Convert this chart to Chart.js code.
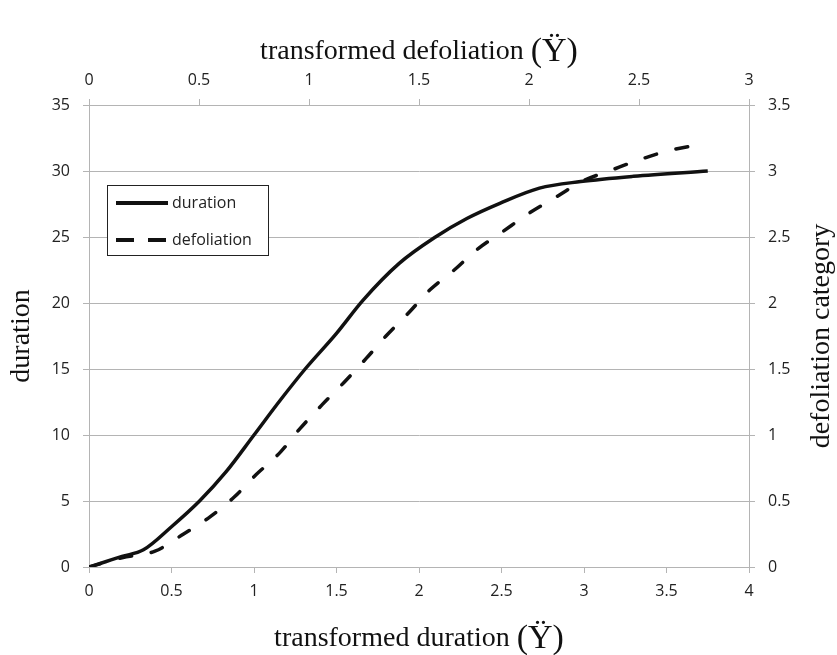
<!DOCTYPE html>
<html>
<head>
<meta charset="utf-8">
<script src="https://cdn.jsdelivr.net/npm/chart.js@4.4.1/dist/chart.umd.min.js"></script>
<style>
  body { margin: 0; background: #fff; }
  canvas { display: block; }
</style>
</head>
<body>
<canvas id="chart" width="837" height="655"></canvas>
<script>
// duration curve (bottom axis x, left axis y)
const durationX = [0, 0.1, 0.2, 0.33, 0.5, 0.67, 0.83, 1.0, 1.16, 1.31, 1.5, 1.66, 1.88, 2.1, 2.29, 2.49, 2.73, 2.98, 3.3, 3.75];
const durationY = [0, 0.4, 0.8, 1.3, 3.05, 5.0, 7.2, 10.0, 12.65, 15.0, 17.7, 20.2, 23.0, 25.0, 26.4, 27.55, 28.7, 29.2, 29.6, 30.0];

// defoliation curve (top axis x, right axis y)
const defoliationX = [0, 0.15, 0.3, 0.43, 0.55, 0.66, 0.76, 0.87, 0.96, 1.06, 1.16, 1.26, 1.35, 1.45, 1.55, 1.66, 1.76, 1.88, 2.0, 2.12, 2.24, 2.38, 2.51, 2.65, 2.78];
const defoliationY = [0, 0.07, 0.12, 0.25, 0.38, 0.53, 0.70, 0.87, 1.05, 1.23, 1.40, 1.58, 1.75, 1.92, 2.10, 2.25, 2.40, 2.54, 2.68, 2.80, 2.92, 3.01, 3.09, 3.16, 3.20];

const seriesNames = ['duration', 'defoliation'];
const bottomTitle = 'transformed duration ';
const topTitle = 'transformed defoliation ';
const symbolText = '(Ÿ)';
const leftTitle = 'duration';
const rightTitle = 'defoliation category';

const gridGray = '#b4b4b4';
const tickFont = { family: 'Open Sans', size: 16 };
const serif = '"Liberation Serif", "DejaVu Serif", serif';

// draws axis titles and the boxed legend inside the plot
const extras = {
    id: 'extras',
    afterDraw(chart) {
        const ctx = chart.ctx;
        const area = chart.chartArea;
        const cx = (area.left + area.right) / 2;
        const cy = (area.top + area.bottom) / 2;
        ctx.save();
        ctx.fillStyle = '#111';

        function mixedTitle(text, y) {
            ctx.textBaseline = 'alphabetic';
            ctx.textAlign = 'left';
            ctx.font = '28px ' + serif;
            const w1 = ctx.measureText(text).width;
            ctx.font = '34px ' + serif;
            const w2 = ctx.measureText(symbolText).width;
            let x = cx - (w1 + w2) / 2;
            ctx.font = '28px ' + serif;
            ctx.fillText(text, x, y);
            ctx.font = '34px ' + serif;
            ctx.fillText(symbolText, x + w1, y + 2);
        }
        mixedTitle(topTitle, 59);
        mixedTitle(bottomTitle, 646);

        ctx.font = '28px ' + serif;
        ctx.textAlign = 'center';
        ctx.textBaseline = 'middle';
        [[22, leftTitle], [822, rightTitle]].forEach(([x, t]) => {
            ctx.save();
            ctx.translate(x, cy);
            ctx.rotate(-Math.PI / 2);
            ctx.fillText(t, 0, 0);
            ctx.restore();
        });

        // legend box
        ctx.fillStyle = '#fff';
        ctx.fillRect(107, 185, 162, 71);
        ctx.strokeStyle = '#222';
        ctx.lineWidth = 1;
        ctx.strokeRect(107.5, 185.5, 161, 70);
        ctx.lineWidth = 4;
        ctx.strokeStyle = '#111';
        ctx.beginPath();
        ctx.moveTo(116, 203);
        ctx.lineTo(168, 203);
        ctx.stroke();
        ctx.setLineDash([18, 14]);
        ctx.beginPath();
        ctx.moveTo(116, 240);
        ctx.lineTo(168, 240);
        ctx.stroke();
        ctx.setLineDash([]);
        ctx.fillStyle = '#222';
        ctx.font = '16px "Open Sans"';
        ctx.textAlign = 'left';
        ctx.textBaseline = 'middle';
        ctx.fillText(seriesNames[0], 172, 203);
        ctx.fillText(seriesNames[1], 172, 240);
        ctx.restore();
    }
};

function axis(position, min, max, step, size, onArea, pad) {
    const horizontal = position === 'top' || position === 'bottom';
    return {
        type: 'linear',
        position: position,
        min: min,
        max: max,
        ticks: {
            stepSize: step,
            color: '#222',
            font: tickFont,
            padding: pad,
            callback: v => String(Math.round(v * 10) / 10)
        },
        grid: { color: gridGray, tickLength: 6, drawOnChartArea: onArea, tickColor: gridGray },
        border: { color: gridGray },
        afterFit(s) {
            if (horizontal) s.height = size; else s.width = size;
        }
    };
}

new Chart(document.getElementById('chart'), {
    type: 'line',
    data: {
        datasets: [{
            label: seriesNames[0],
            data: durationX.map((x, i) => ({ x: x, y: durationY[i] })),
            xAxisID: 'x',
            yAxisID: 'y',
            borderColor: '#111',
            borderWidth: 3.5,
            pointRadius: 0,
            cubicInterpolationMode: 'monotone'
        }, {
            label: seriesNames[1],
            data: defoliationX.map((x, i) => ({ x: x, y: defoliationY[i] })),
            xAxisID: 'x2',
            yAxisID: 'y2',
            borderColor: '#111',
            borderWidth: 3.5,
            borderDash: [12, 20],
            borderCapStyle: 'round',
            pointRadius: 0,
            cubicInterpolationMode: 'monotone'
        }]
    },
    options: {
        responsive: false,
        animation: false,
        layout: { padding: 0 },
        scales: {
            x: axis('bottom', 0, 4, 0.5, 88, false, 9),
            x2: axis('top', 0, 3, 0.5, 105, false, 9),
            y: axis('left', 0, 35, 5, 89, true, 13),
            y2: axis('right', 0, 3.5, 0.5, 88, false, 13)
        },
        plugins: {
            legend: { display: false },
            tooltip: { enabled: false }
        }
    },
    plugins: [extras]
});
</script>
</body>
</html>
